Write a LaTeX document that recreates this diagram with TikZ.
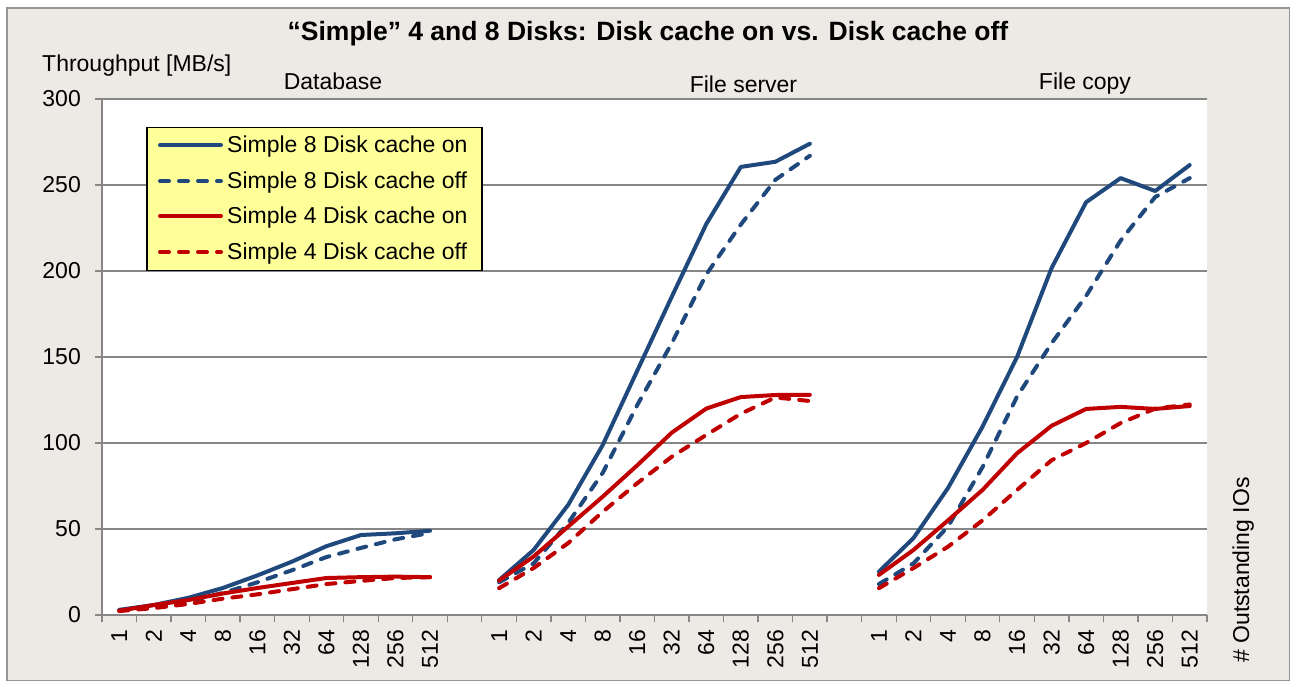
\documentclass[tikz,border=0pt]{standalone}
\usepackage{fontspec}
\setmainfont{Liberation Sans}
\definecolor{chartbg}{RGB}{237,233,229}
\definecolor{gridgray}{RGB}{134,134,134}
\definecolor{framegray}{RGB}{150,150,150}
\definecolor{serblue}{RGB}{31,73,125}
\definecolor{serred}{RGB}{192,0,0}
\definecolor{legfill}{RGB}{255,255,153}
\begin{document}
\begin{tikzpicture}[x=1pt,y=1pt,
  lbl/.style={font=\fontsize{23}{27.6}\selectfont, inner sep=0pt},
  ttl/.style={font=\fontsize{26.5}{31}\selectfont\bfseries, inner sep=0pt},
  gridline/.style={draw=gridgray, line width=1.3pt},
  serie/.style={line width=4pt, line join=round, line cap=round},
  b8on/.style={serie, draw=serblue},
  b8off/.style={serie, draw=serblue, dash pattern=on 9pt off 10pt},
  r4on/.style={serie, draw=serred},
  r4off/.style={serie, draw=serred, dash pattern=on 9pt off 10pt},
  legbox/.style={draw=black, line width=1.5pt, fill=legfill, inner sep=0pt,
    minimum width=335pt, minimum height=143pt, anchor=north west}]
\useasboundingbox (0,0) rectangle (1293,682);
\fill[white] (0,0) rectangle (1293,682);
% chart area and plot area
\draw[framegray, line width=1.5pt, fill=chartbg] (7,1.5) rectangle (1289.5,674);
\fill[white] (102,67) rectangle (1207,583);
% value gridlines with their ticks and labels
\foreach \v in {0,50,...,300} {
  \draw[gridline] (95,{67+1.72*\v}) -- (1207,{67+1.72*\v});
  \node[lbl, anchor=east] (yl\v) at (81,{67+1.72*\v}) {\v};
}
\draw[gridline] (102,67) -- (102,583);
% category ticks
\foreach \k in {0,...,32}
  \draw[gridline] ({102+34.53*\k},67) -- ({102+34.53*\k},60);
% category labels for the three groups
\foreach \g in {0,11,22}
  \foreach \t [count=\i from 0] in {1,2,4,8,16,32,64,128,256,512}
    \node[lbl, rotate=90, anchor=east] (xl\g-\i) at ({102+34.53*(\g+\i+0.5)},52) {\t};
% titles
\node[ttl, anchor=base] (title) at (648,641) {“Simple” 4 and 8 Disks: Disk cache on vs. Disk cache off};
\node[lbl, anchor=base west] (ytitle) at (42,610) {Throughput [MB/s]};
\node[lbl, anchor=base] (gdb) at (333,592) {Database};
\node[lbl, anchor=base] (gfs) at (743.5,589) {File server};
\node[lbl, anchor=base] (gfc) at (1085,592) {File copy};
\node[lbl, rotate=90, anchor=base west] (xtitle) at (1249,19) {\# Outstanding IOs};
% data series
\begin{scope}[shift={(102,67)}, x=34.53pt, y=1.72pt]
  % Database
  \draw[b8on] (0.5,3) -- (1.5,5.8) -- (2.5,10) -- (3.5,15.7) -- (4.5,23) -- (5.5,31) -- (6.5,40) -- (7.5,46.5) -- (8.5,47.5) -- (9.5,49);
  \draw[b8off] (0.5,2.5) -- (1.5,4.5) -- (2.5,8) -- (3.5,12.8) -- (4.5,19) -- (5.5,26) -- (6.5,33.7) -- (7.5,39) -- (8.5,44) -- (9.5,47.7);
  \draw[r4on] (0.5,2.5) -- (1.5,5.8) -- (2.5,8.7) -- (3.5,12.5) -- (4.5,15.7) -- (5.5,18.6) -- (6.5,21.5) -- (7.5,22) -- (8.5,22.3) -- (9.5,22);
  \draw[r4off] (0.5,2.3) -- (1.5,4) -- (2.5,6.4) -- (3.5,9.5) -- (4.5,12) -- (5.5,15) -- (6.5,18) -- (7.5,19.8) -- (8.5,21.5) -- (9.5,22);
  % File server
  \draw[b8on] (11.5,20.3) -- (12.5,37.8) -- (13.5,64) -- (14.5,98.8) -- (15.5,142) -- (16.5,185) -- (17.5,227.3) -- (18.5,260.5) -- (19.5,263.5) -- (20.5,274);
  \draw[b8off] (11.5,19) -- (12.5,30) -- (13.5,53.5) -- (14.5,82.6) -- (15.5,122) -- (16.5,158) -- (17.5,198) -- (18.5,227) -- (19.5,253) -- (20.5,267);
  \draw[r4on] (11.5,20) -- (12.5,34) -- (13.5,51.4) -- (14.5,68.8) -- (15.5,87) -- (16.5,106) -- (17.5,120) -- (18.5,126.7) -- (19.5,127.9) -- (20.5,128);
  \draw[r4off] (11.5,15.6) -- (12.5,27.3) -- (13.5,41.8) -- (14.5,60) -- (15.5,76.6) -- (16.5,92) -- (17.5,104.7) -- (18.5,117) -- (19.5,126.5) -- (20.5,124.4);
  % File copy
  \draw[b8on] (22.5,25.2) -- (23.5,44.7) -- (24.5,73.8) -- (25.5,109.5) -- (26.5,150) -- (27.5,201.7) -- (28.5,240) -- (29.5,254) -- (30.5,246.5) -- (31.5,261.6);
  \draw[b8off] (22.5,18) -- (23.5,30) -- (24.5,51.4) -- (25.5,86) -- (26.5,127) -- (27.5,158) -- (28.5,185.5) -- (29.5,217.7) -- (30.5,243) -- (31.5,254);
  \draw[r4on] (22.5,23.3) -- (23.5,37.8) -- (24.5,55) -- (25.5,72.7) -- (26.5,94) -- (27.5,110) -- (28.5,119.8) -- (29.5,121) -- (30.5,119.8) -- (31.5,121.5);
  \draw[r4off] (22.5,15.6) -- (23.5,27.3) -- (24.5,39.7) -- (25.5,55) -- (26.5,72.7) -- (27.5,90) -- (28.5,100) -- (29.5,111.6) -- (30.5,120) -- (31.5,122.4);
\end{scope}
% legend
\node[legbox] (legend) at (146,555) {};
\foreach \y/\s/\t in {537/b8on/Simple 8 Disk cache on, 501/b8off/Simple 8 Disk cache off,
                      466/r4on/Simple 4 Disk cache on, 430/r4off/Simple 4 Disk cache off} {
  \coordinate (ls\y) at (160,\y);
  \coordinate (le\y) at (221,\y);
  \draw[\s] (ls\y) -- (le\y);
  \node[lbl, anchor=base west] (lt\y) at (227,\y-8) {\t};
}
\end{tikzpicture}
\end{document}
